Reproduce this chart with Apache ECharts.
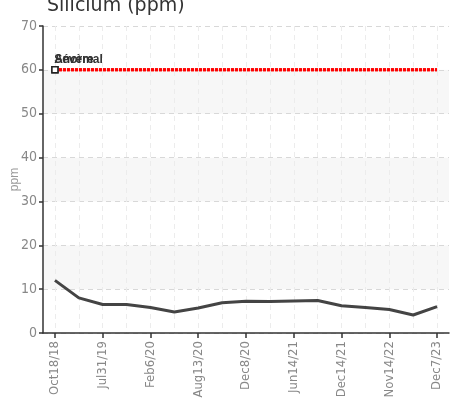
<!DOCTYPE html>
<html>
<head>
<meta charset="utf-8">
<script src="https://cdn.jsdelivr.net/npm/echarts@6/dist/echarts.min.js"></script>
<style>html,body{margin:0;padding:0;background:#fff}#c{width:458px;height:411px}</style>
</head>
<body>
<div id="c"></div>
<script>
const categories = ['Oct18/18','Mar5/19','Jul31/19','Nov12/19','Feb6/20','May20/20','Aug13/20','Oct22/20','Dec8/20','Mar10/21','Jun14/21','Sep15/21','Dec14/21','May18/22','Nov14/22','May24/23','Dec7/23'];
const siliciumValues = [12, 8, 6.5, 6.5, 5.8, 4.8, 5.7, 6.9, 7.25, 7.2, 7.3, 7.4, 6.2, 5.8, 5.35, 4.1, 6];
const anormalValues = categories.map(() => 60);
const severeValues = categories.map(() => 60);
const yTicks = {min: 0, max: 70, interval: 10};

const FONT = '"Liberation Sans Narrow","DejaVu Sans Condensed",sans-serif';
const chart = echarts.init(document.getElementById('c'));

function thresholdSeries(name, values) {
  return {
    name: name, type: 'line', data: values, xAxisIndex: 0,
    symbol: 'none', silent: true, z: 3,
    lineStyle: {color: '#ff0000', width: 3, type: [3, 1]},
    markPoint: {
      symbol: 'rect', symbolSize: 6,
      itemStyle: {color: '#fff', borderColor: '#222', borderWidth: 1.5},
      label: {show: true, position: [3, -12], formatter: name, color: '#333', fontSize: 12, fontWeight: 'bold', fontFamily: '"Liberation Sans",sans-serif'},
      data: [{coord: [0, values[0]]}]
    }
  };
}

chart.setOption({
  animation: false,
  title: {
    text: 'Silicium (ppm)', left: 42, top: -8,
    textStyle: {fontSize: 19, fontWeight: 'normal', color: '#333', fontFamily: '"DejaVu Sans",sans-serif'}
  },
  grid: {left: 43, right: 9, top: 26, bottom: 78, containLabel: false, outerBoundsMode: 'none'},
  xAxis: [{
    type: 'category', data: categories, boundaryGap: true,
    axisLine: {lineStyle: {color: '#333', width: 1.5}},
    axisTick: {show: true, alignWithLabel: true, interval: 1, length: 5, lineStyle: {color: '#333', width: 1.5}},
    axisLabel: {interval: 1, rotate: 90, color: '#888', fontSize: 13, fontFamily: FONT, margin: 8},
    splitLine: {show: true, alignWithLabel: true, interval: 1, lineStyle: {color: '#d0d0d0', type: [5, 4]}}
  }, {
    type: 'category', data: categories, boundaryGap: true, position: 'bottom',
    axisLine: {show: false}, axisTick: {show: false}, axisLabel: {show: false},
    splitLine: {show: true, alignWithLabel: true, interval: 0, lineStyle: {color: '#ececec', type: [5, 4]}}
  }],
  yAxis: {
    type: 'value', min: yTicks.min, max: yTicks.max, interval: yTicks.interval,
    name: 'ppm', nameLocation: 'middle', nameGap: 22, nameMoveOverlap: false,
    nameTextStyle: {color: '#999', fontSize: 12, fontFamily: 'sans-serif'},
    axisLine: {show: true, lineStyle: {color: '#333', width: 1.5}},
    axisTick: {show: true, length: 4, lineStyle: {color: '#333', width: 1.5}},
    axisLabel: {color: '#888', fontSize: 14, fontFamily: FONT, margin: 6},
    splitLine: {show: true, lineStyle: {color: '#d8d8d8', type: [5, 4]}},
    splitArea: {show: true, areaStyle: {color: ['#ffffff', '#f7f7f7']}}
  },
  series: [
    thresholdSeries('Anormal', anormalValues),
    thresholdSeries('Sévère', severeValues),
    {
      name: 'Silicium', type: 'line', data: siliciumValues, xAxisIndex: 0,
      symbol: 'none', z: 4,
      lineStyle: {color: '#444', width: 3}
    }
  ]
});
</script>
</body>
</html>
